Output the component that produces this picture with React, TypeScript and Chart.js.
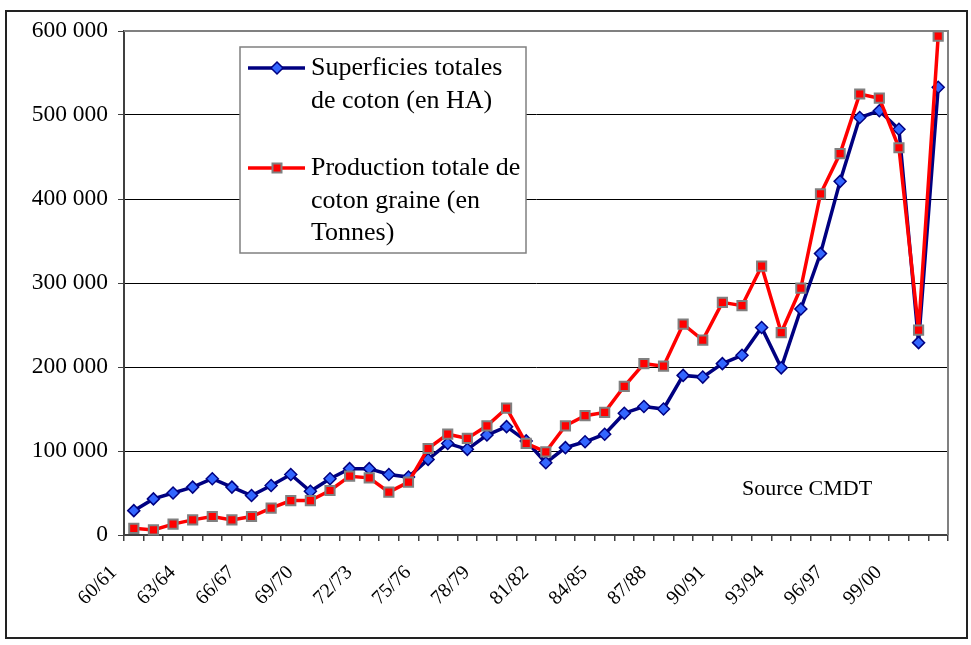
import React, { useEffect, useRef } from "react";
import { Chart, registerables } from "chart.js";

Chart.register(...registerables);

const categories = [
  "60/61", "61/62", "62/63", "63/64", "64/65", "65/66", "66/67", "67/68", "68/69", "69/70",
  "70/71", "71/72", "72/73", "73/74", "74/75", "75/76", "76/77", "77/78", "78/79", "79/80",
  "80/81", "81/82", "82/83", "83/84", "84/85", "85/86", "86/87", "87/88", "88/89", "89/90",
  "90/91", "91/92", "92/93", "93/94", "94/95", "95/96", "96/97", "97/98", "98/99", "99/00",
  "00/01", "01/02",
];

const superficies = [
  29000, 43000, 50000, 57000, 67000, 57000, 47000, 59000, 72000, 52000,
  67000, 79000, 79000, 72000, 69000, 90000, 109000, 102000, 119000, 129000,
  112000, 86000, 104000, 111000, 120000, 145000, 153000, 150000, 190000, 188000,
  204000, 214000, 247000, 199000, 269000, 335000, 421000, 497000, 505000, 483000,
  229000, 533000,
];

const production = [
  8000, 6000, 13000, 18000, 22000, 18000, 22000, 32000, 41000, 41000,
  53000, 70000, 68000, 51000, 63000, 103000, 120000, 115000, 130000, 151000,
  109000, 99000, 130000, 142000, 146000, 177000, 204000, 201000, 251000, 232000,
  277000, 273000, 320000, 241000, 294000, 406000, 454000, 525000, 520000, 461000,
  244000, 594000,
];

const legendSuperficies = ["Superficies totales", "de coton (en HA)"];
const legendProduction = ["Production totale de", "coton graine (en", "Tonnes)"];
const sourceText = "Source CMDT";

const SERIF = '"Liberation Serif", "Times New Roman", serif';
const BLUE_LINE = "#000080";
const BLUE_FILL = "#3366ff";
const RED = "#ff0000";
const GRAY = "#808080";

function drawDiamond(ctx: CanvasRenderingContext2D, x: number, y: number, r: number) {
  ctx.beginPath();
  ctx.moveTo(x, y - r);
  ctx.lineTo(x + r, y);
  ctx.lineTo(x, y + r);
  ctx.lineTo(x - r, y);
  ctx.closePath();
  ctx.fillStyle = BLUE_FILL;
  ctx.fill();
  ctx.lineWidth = 1.5;
  ctx.strokeStyle = BLUE_LINE;
  ctx.stroke();
}

function drawSquare(ctx: CanvasRenderingContext2D, x: number, y: number, s: number) {
  ctx.fillStyle = RED;
  ctx.fillRect(x - s / 2, y - s / 2, s, s);
  ctx.lineWidth = 2;
  ctx.strokeStyle = GRAY;
  ctx.strokeRect(x - s / 2, y - s / 2, s, s);
}

const decorPlugin = {
  id: "decor",
  beforeDraw(chart: any) {
    const ctx = chart.ctx as CanvasRenderingContext2D;
    ctx.save();
    ctx.fillStyle = "#ffffff";
    ctx.fillRect(0, 0, chart.width, chart.height);
    ctx.restore();
  },
  beforeDatasetsDraw(chart: any) {
    const ctx = chart.ctx as CanvasRenderingContext2D;
    const a = chart.chartArea;
    ctx.save();
    ctx.strokeStyle = GRAY;
    ctx.lineWidth = 2;
    ctx.beginPath();
    ctx.moveTo(a.left, a.top);
    ctx.lineTo(a.right, a.top);
    ctx.lineTo(a.right, a.bottom);
    ctx.stroke();
    ctx.restore();
  },
  afterDraw(chart: any) {
    const ctx = chart.ctx as CanvasRenderingContext2D;
    ctx.save();
    // outer frame
    ctx.strokeStyle = "#222222";
    ctx.lineWidth = 2;
    ctx.strokeRect(6, 11, 961, 627);

    // legend box
    const bx = 240, by = 47, bw = 286, bh = 206;
    ctx.fillStyle = "#ffffff";
    ctx.fillRect(bx, by, bw, bh);
    ctx.strokeStyle = GRAY;
    ctx.lineWidth = 1.5;
    ctx.strokeRect(bx, by, bw, bh);

    ctx.font = `26px ${SERIF}`;
    ctx.textAlign = "left";
    ctx.textBaseline = "middle";
    ctx.fillStyle = "#000000";
    const lh = 32.7;

    // entry 1
    const y1 = 68;
    ctx.strokeStyle = BLUE_LINE;
    ctx.lineWidth = 3.5;
    ctx.beginPath();
    ctx.moveTo(248, y1);
    ctx.lineTo(305, y1);
    ctx.stroke();
    drawDiamond(ctx, 277, y1, 6);
    ctx.fillStyle = "#000000";
    legendSuperficies.forEach((t, i) => ctx.fillText(t, 311, y1 + i * lh));

    // entry 2
    const y2 = 168;
    ctx.strokeStyle = RED;
    ctx.lineWidth = 3.5;
    ctx.beginPath();
    ctx.moveTo(248, y2);
    ctx.lineTo(305, y2);
    ctx.stroke();
    drawSquare(ctx, 277, y2, 9);
    ctx.fillStyle = "#000000";
    legendProduction.forEach((t, i) => ctx.fillText(t, 311, y2 + i * lh));

    // source
    ctx.font = `22px ${SERIF}`;
    ctx.fillText(sourceText, 742, 489);
    ctx.restore();
  },
};

function formatThousands(v: number) {
  if (v === 0) return "0";
  return `${Math.round(v / 1000)} 000`;
}

export default function App() {
  const canvasRef = useRef<HTMLCanvasElement | null>(null);

  useEffect(() => {
    if (!canvasRef.current) return;
    const chart = new Chart(canvasRef.current, {
      type: "line",
      data: {
        labels: categories,
        datasets: [
          {
            label: "Production totale de coton graine (en Tonnes)",
            data: production,
            borderColor: RED,
            backgroundColor: RED,
            borderWidth: 3.5,
            pointStyle: "rect",
            pointRadius: 6.5,
            pointBorderColor: GRAY,
            pointBackgroundColor: RED,
            pointBorderWidth: 2,
            tension: 0,
            clip: false,
            order: 1,
          },
          {
            label: "Superficies totales de coton (en HA)",
            data: superficies,
            borderColor: BLUE_LINE,
            backgroundColor: BLUE_FILL,
            borderWidth: 3.5,
            pointStyle: "rectRot",
            pointRadius: 6,
            pointBorderColor: BLUE_LINE,
            pointBackgroundColor: BLUE_FILL,
            pointBorderWidth: 1.5,
            tension: 0,
            clip: false,
            order: 2,
          },
        ],
      },
      options: {
        responsive: false,
        animation: false,
        devicePixelRatio: 1,
        layout: { padding: { left: 0, top: 31, right: 23, bottom: 0 } },
        plugins: {
          legend: { display: false },
          tooltip: { enabled: false },
        },
        scales: {
          x: {
            type: "category",
            offset: true,
            afterFit: (scale: any) => {
              scale.height = 110;
              scale.paddingLeft = 0;
              scale.paddingRight = 0;
            },
            border: { display: true, color: "#404040", width: 2 },
            grid: {
              offset: true,
              drawOnChartArea: false,
              drawTicks: true,
              tickLength: 6,
              color: "#404040",
              tickColor: "#404040",
              lineWidth: 1.5,
            },
            ticks: {
              autoSkip: false,
              maxRotation: 45,
              minRotation: 45,
              padding: 20,
              labelOffset: -20,
              color: "#000000",
              font: { family: SERIF, size: 20 },
              callback: (_v: any, idx: number) => (idx % 3 === 0 ? categories[idx] : ""),
            },
          },
          y: {
            min: 0,
            max: 600000,
            afterFit: (scale: any) => {
              scale.width = 124;
              scale.paddingTop = 0;
              scale.paddingBottom = 0;
            },
            border: { display: true, color: "#404040", width: 2 },
            grid: {
              drawTicks: true,
              tickLength: 6,
              tickColor: "#404040",
              color: (c: any) =>
                c.tick && (c.tick.value === 0 || c.tick.value === 600000)
                  ? "rgba(0,0,0,0)"
                  : "#000000",
              lineWidth: 1,
            },
            ticks: {
              stepSize: 100000,
              padding: 10,
              color: "#000000",
              font: { family: SERIF, size: 23.5 },
              callback: (v: any) => formatThousands(Number(v)),
            },
          },
        },
      },
      plugins: [decorPlugin],
    });
    return () => chart.destroy();
  }, []);

  return (
    <div style={{ position: "absolute", left: 0, top: 0, width: 971, height: 645, background: "#fff" }}>
      <canvas ref={canvasRef} width={971} height={645} style={{ display: "block" }} />
    </div>
  );
}
